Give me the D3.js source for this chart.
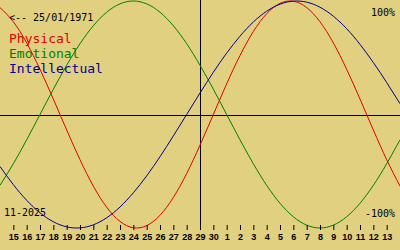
<!DOCTYPE html>
<html>
<head>
<meta charset="utf-8">
<script src="https://cdn.jsdelivr.net/npm/d3@7"></script>
<style>
  body { margin: 0; background: #e0d080; }
  svg { display: block; }
  .mono { font-family: "DejaVu Sans Mono", monospace; }
</style>
</head>
<body>
<svg width="400" height="250"></svg>
<script>
// day offsets around the selected day (29 Nov 2025), one point per day
var offsets = d3.range(-15, 16);
var dayLabels = ["14","15","16","17","18","19","20","21","22","23","24","25","26","27","28","29","30",
                 "1","2","3","4","5","6","7","8","9","10","11","12","13","14"];

var physical = [0.942, 0.817, 0.631, 0.398, 0.136, -0.136, -0.398, -0.631, -0.817, -0.942, -0.998,
    -0.979, -0.888, -0.731, -0.520, -0.270, 0, 0.270, 0.520, 0.731, 0.888, 0.979, 0.998,
    0.942, 0.817, 0.631, 0.398, 0.136, -0.136, -0.398, -0.631];
var emotional = [-0.624, -0.434, -0.223, 0, 0.223, 0.434, 0.624, 0.782, 0.901, 0.975, 1,
    0.975, 0.901, 0.782, 0.624, 0.434, 0.223, 0, -0.223, -0.434, -0.624, -0.782, -0.901,
    -0.975, -1, -0.975, -0.901, -0.782, -0.624, -0.434, -0.223];
var intellectual = [-0.458, -0.618, -0.756, -0.866, -0.945, -0.990, -0.999, -0.972, -0.910, -0.815, -0.690,
    -0.541, -0.372, -0.189, 0, 0.189, 0.372, 0.541, 0.690, 0.815, 0.910, 0.972, 0.999,
    0.990, 0.945, 0.866, 0.756, 0.618, 0.458, 0.282, 0.095];

var series = [
    {name: "Physical", values: physical, color: "#e00000"},
    {name: "Emotional", values: emotional, color: "#008000"},
    {name: "Intellectual", values: intellectual, color: "#000090"}
];

var x = d3.scaleLinear().domain([-15, 15]).range([0, 400]);
var y = d3.scaleLinear().domain([-1, 1]).range([228, 1]);

var svg = d3.select('svg');

svg.append("rect")
    .attr("width", 400)
    .attr("height", 250)
    .attr("fill", "#e0d080");

// zero line and today line
svg.append("line")
    .attr("x1", 0).attr("x2", 400)
    .attr("y1", Math.round(y(0)) + 0.5).attr("y2", Math.round(y(0)) + 0.5)
    .attr("stroke", "#000");
svg.append("line")
    .attr("x1", x(0) + 0.5).attr("x2", x(0) + 0.5)
    .attr("y1", 0).attr("y2", 230)
    .attr("stroke", "#000");

var line = d3.line()
    .x((d, i) => x(offsets[i]))
    .y(d => y(d))
    .curve(d3.curveNatural);

svg.selectAll("path.bio")
    .data(series)
    .enter().append("path")
    .attr("class", "bio")
    .attr("d", d => line(d.values))
    .attr("fill", "none")
    .attr("stroke", d => d.color)
    .attr("stroke-width", 1);

// day axis
var ticks = offsets.slice(1, -1);
var xAxis = d3.axisBottom(x)
    .tickValues(ticks)
    .tickSize(5)
    .tickPadding(4)
    .tickFormat(d => dayLabels[d + 15]);

var axis = svg.append("g")
    .attr("class", "x axis")
    .attr("transform", "translate(0, 225)")
    .call(xAxis);
axis.select(".domain").remove();
axis.selectAll("line").attr("stroke", "#000");
axis.selectAll("text")
    .attr("fill", "#000")
    .style("font-family", "Liberation Sans, Arial, sans-serif")
    .style("font-weight", "bold")
    .style("font-size", "9px");

// texts
svg.append("text")
    .attr("class", "mono")
    .attr("x", 9).attr("y", 21)
    .style("font-size", "10px")
    .text("<-- 25/01/1971");

svg.selectAll("text.legend")
    .data(series)
    .enter().append("text")
    .attr("class", "legend mono")
    .attr("x", 9)
    .attr("y", (d, i) => 43 + i * 15)
    .attr("fill", d => d.color)
    .style("font-size", "13px")
    .text(d => d.name);

svg.append("text")
    .attr("class", "mono")
    .attr("x", 395).attr("y", 16)
    .attr("text-anchor", "end")
    .style("font-size", "10px")
    .text("100%");

svg.append("text")
    .attr("class", "mono")
    .attr("x", 395).attr("y", 217)
    .attr("text-anchor", "end")
    .style("font-size", "10px")
    .text("-100%");

svg.append("text")
    .attr("class", "mono")
    .attr("x", 4).attr("y", 216)
    .style("font-size", "10px")
    .text("11-2025");
</script>
</body>
</html>
